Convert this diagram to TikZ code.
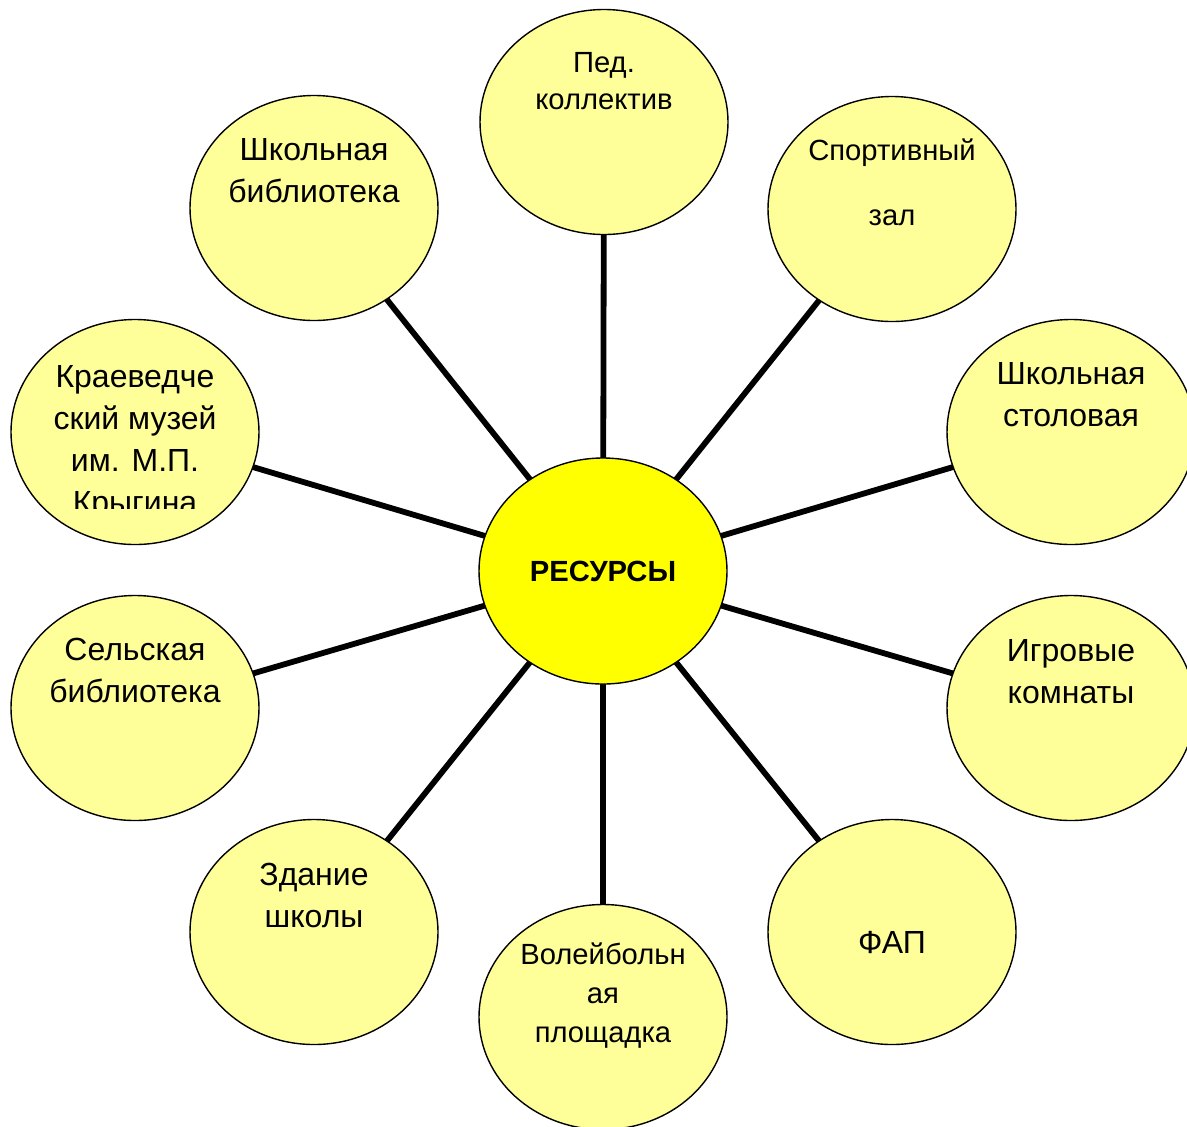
\documentclass[tikz,border=0pt]{standalone}
\usepackage{fontspec}
\setmainfont{Liberation Sans}
\usepackage{xcolor}
\usepackage{tikz}
\usetikzlibrary{shapes.geometric, positioning, calc, backgrounds}
\definecolor{hubyellow}{RGB}{255, 255, 0}
\definecolor{paleyellow}{RGB}{255, 255, 153}

\begin{document}
\begin{tikzpicture}[
    x=0.5pt, y=-0.5pt,
    res/.style={ellipse, draw=black, line width=0.7pt, fill=paleyellow, minimum width=124pt, minimum height=112.5pt, inner sep=0pt},
    hub/.style={ellipse, draw=black, line width=0.7pt, fill=hubyellow, minimum width=124pt, minimum height=113pt, font=\fontsize{14.6}{18}\selectfont\bfseries},
    lbl/.style={anchor=north, align=center, inner sep=0pt, font=\fontsize{16}{21}\selectfont},
    small/.style={font=\fontsize{14.6}{18.5}\selectfont},
    spoke/.style={line width=2.9pt, black}
]
    \useasboundingbox (0,0) rectangle (1187,1126);

    \node[hub] (hub) at (603,571) {РЕСУРСЫ};
    \node[res] (ped) at (604,122) {};
    \node[res] (sport) at (892,209) {};
    \node[res] (stol) at (1071,432) {};
    \node[res] (igr) at (1071,708) {};
    \node[res] (fap) at (892,932) {};
    \node[res] (vol) at (603,1017) {};
    \node[res] (zdan) at (314,932) {};
    \node[res] (sel) at (135,708) {};
    \node[res] (kraev) at (135,432) {};
    \node[res] (shbib) at (314,208) {};

    \node[lbl, small] (ped-t) at ($(ped)+(0,-70)$) {Пед.\\коллектив};
    \node[lbl, font=\fontsize{14.6}{32.5}\selectfont] (sport-t) at ($(sport)+(0,-71)$) {Спортивный\\зал};
    \node[lbl] (stol-t) at ($(stol)+(0,-70)$) {Школьная\\столовая};
    \node[lbl] (igr-t) at ($(igr)+(0,-69)$) {Игровые\\комнаты};
    \node[lbl] (fap-t) at ($(fap)+(0,-1)$) {ФАП};
    \node[lbl, font=\fontsize{14.6}{19.5}\selectfont] (vol-t) at ($(vol)+(0,-75)$) {Волейбольн\\ая\\площадка};
    \node[lbl] (zdan-t) at ($(zdan)+(0,-69)$) {Здание\\школы};
    \node[lbl] (sel-t) at ($(sel)+(0,-70)$) {Сельская\\библиотека};
    \begin{scope}
        \clip (0,320) rectangle (270,508);
        \node[lbl] (kraev-t) at ($(kraev)+(0,-67)$) {Краеведче\\ский музей\\им. М.П.\\Крыгина};
    \end{scope}
    \node[lbl] (shbib-t) at ($(shbib)+(0,-70)$) {Школьная\\библиотека};

    \begin{scope}[on background layer]
        \draw[spoke] (hub.center) -- (ped.center);
        \draw[spoke] (hub.center) -- (sport.center);
        \draw[spoke] (hub.center) -- (stol.center);
        \draw[spoke] (hub.center) -- (igr.center);
        \draw[spoke] (hub.center) -- (fap.center);
        \draw[spoke] (hub.center) -- (vol.center);
        \draw[spoke] (hub.center) -- (zdan.center);
        \draw[spoke] (hub.center) -- (sel.center);
        \draw[spoke] (hub.center) -- (kraev.center);
        \draw[spoke] (hub.center) -- (shbib.center);
    \end{scope}
\end{tikzpicture}
\end{document}
